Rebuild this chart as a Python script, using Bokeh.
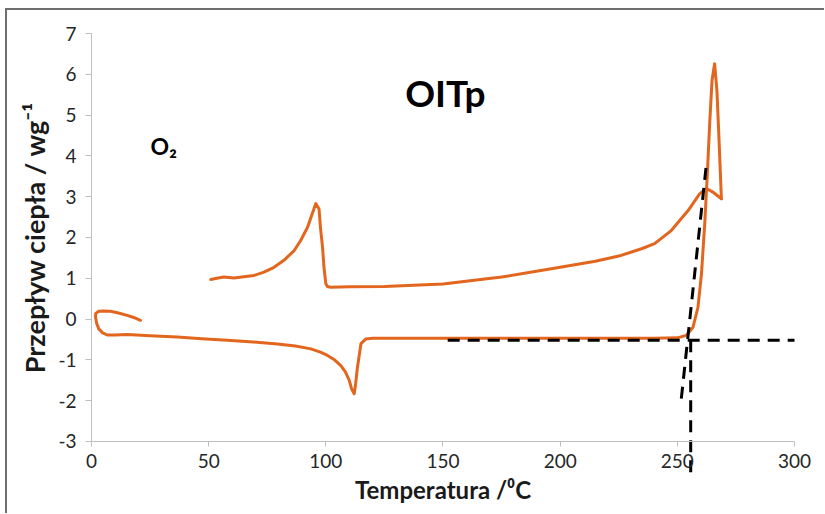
from bokeh.plotting import figure
from bokeh.models import Range1d, FixedTicker, Label
from bokeh.embed import file_html
from bokeh.resources import INLINE

# ---- data ----
heating_T = [20.9, 18.0, 15.2, 11.5, 8.1, 5.0, 3.1, 1.8, 1.7, 2.2, 3.1, 4.6, 6.7, 10.0, 15.2,
             25.0, 36.6, 47.0, 58.0, 69.0, 79.4, 87.0, 93.6, 97.7, 100.7, 103.5, 106.4, 108.4,
             110.0, 111.0, 112.1, 112.7, 113.5, 115.0, 117.0, 120.0, 130.0, 150.0, 180.0,
             210.0, 240.0, 250.0, 253.8, 256.7, 258.8, 260.3, 261.7, 262.8, 263.8, 264.8,
             265.9, 266.9, 267.8, 268.8]
heating_Q = [-0.03, 0.04, 0.09, 0.15, 0.19, 0.20, 0.19, 0.14, 0.05, -0.10, -0.24, -0.33, -0.39,
             -0.39, -0.38, -0.41, -0.44, -0.48, -0.52, -0.56, -0.61, -0.66, -0.73, -0.81,
             -0.89, -0.99, -1.14, -1.30, -1.50, -1.71, -1.83, -1.59, -1.18, -0.60, -0.49,
             -0.47, -0.47, -0.47, -0.47, -0.47, -0.47, -0.46, -0.40, -0.20, 0.29, 1.11, 2.34,
             3.56, 4.79, 5.85, 6.26, 5.60, 4.38, 2.95]

cooling_T = [268.8, 265.0, 262.4, 259.5, 254.6, 247.4, 240.3, 235.0, 226.0, 215.0, 200.0,
             175.0, 150.0, 125.0, 110.0, 102.1, 100.6, 100.0, 99.2, 98.6, 97.7, 97.1, 95.7,
             94.2, 92.2, 89.2, 86.5, 82.1, 77.9, 73.6, 69.4, 65.0, 60.8, 56.5, 53.5, 50.9]
cooling_Q = [2.95, 3.12, 3.20, 3.07, 2.66, 2.17, 1.85, 1.73, 1.56, 1.42, 1.27, 1.03, 0.86,
             0.80, 0.79, 0.78, 0.80, 0.87, 1.27, 1.76, 2.25, 2.70, 2.83, 2.58, 2.25, 1.92,
             1.68, 1.44, 1.27, 1.15, 1.07, 1.04, 1.01, 1.03, 1.00, 0.97]

# onset construction (dashed lines)
baseline_T = [152.0, 300.0]
baseline_Q = [-0.52, -0.52]
tangent_T = [251.7, 262.4]
tangent_Q = [-1.95, 3.80]
onset_T = [255.7, 255.7]
onset_Q = [-0.52, -3.95]

x_ticks = [0, 50, 100, 150, 200, 250, 300]
y_ticks = [-3, -2, -1, 0, 1, 2, 3, 4, 5, 6, 7]

FONT = "Lato"
ORANGE = "#E2661E"
AXIS_GRAY = "#BFBFBF"
DASH = "12 8"

# The frame covers the whole canvas; both axes sit at fixed data positions so that the
# onset line can run past the x axis as in the reference.
p = figure(width=824, height=513,
           x_range=Range1d(-38.83, 312.8), y_range=Range1d(-4.765, 7.809),
           output_backend="svg", toolbar_location=None,
           min_border_left=0, min_border_right=0, min_border_top=0, min_border_bottom=0)
# scanned frame edge (top and left) drawn behind the transparent canvas
p.styles = {"box-shadow": "inset 5px 8px 0 0 #ffffff, inset 7px 10px 0 0 #6e6e6e"}
p.background_fill_alpha = 0
p.border_fill_alpha = 0
p.outline_line_color = None
p.xgrid.visible = False
p.ygrid.visible = False

# data lines
p.line(heating_T, heating_Q, line_color=ORANGE, line_width=3, line_join="round", line_cap="round")
p.line(cooling_T, cooling_Q, line_color=ORANGE, line_width=3, line_join="round", line_cap="round")

# dashed construction lines
for xs, ys in [(baseline_T, baseline_Q), (tangent_T, tangent_Q), (onset_T, onset_Q)]:
    p.line(xs, ys, line_color="black", line_width=3, line_dash=DASH)

# x axis
xa = p.xaxis[0]
xa.fixed_location = -3
xa.bounds = (0, 300)
xa.ticker = FixedTicker(ticks=x_ticks)
xa.axis_line_color = AXIS_GRAY
xa.major_tick_line_color = AXIS_GRAY
xa.major_tick_in = 0
xa.major_tick_out = 5
xa.minor_tick_line_color = None
xa.major_label_overrides = {t: str(t) for t in x_ticks}
xa.major_label_text_font = FONT
xa.major_label_text_font_size = "19px"
xa.major_label_text_color = "#262626"
xa.major_label_standoff = 8
xa.axis_label = "Temperatura /\u2070C"
xa.axis_label_text_font = FONT
xa.axis_label_text_font_style = "bold"
xa.axis_label_text_font_size = "24px"
xa.axis_label_text_color = "#1a1a1a"
xa.axis_label_standoff = 3

# y axis
ya = p.yaxis[0]
ya.fixed_location = 0
ya.bounds = (-3, 7)
ya.ticker = FixedTicker(ticks=y_ticks)
ya.axis_line_color = AXIS_GRAY
ya.major_tick_line_color = AXIS_GRAY
ya.major_tick_in = 0
ya.major_tick_out = 6
ya.minor_tick_line_color = None
ya.major_label_overrides = {t: str(t) for t in y_ticks}
ya.major_label_text_font = FONT
ya.major_label_text_font_size = "19px"
ya.major_label_text_color = "#262626"
ya.major_label_standoff = 9
ya.axis_label = "Przep\u0142yw ciep\u0142a / wg\u207b\u00b9"
ya.axis_label_text_font = FONT
ya.axis_label_text_font_style = "bold"
ya.axis_label_text_font_size = "27px"
ya.axis_label_text_color = "#1a1a1a"
ya.axis_label_standoff = 4

# title inside the plot and gas label
p.add_layout(Label(x=151, y=5.55, text="OITp", text_align="center",
                   text_baseline="alphabetic", text_font=FONT, text_font_style="bold",
                   text_font_size="37px", text_color="black"))
p.add_layout(Label(x=25.2, y=4.25, text="O\u2082", text_align="left",
                   text_baseline="alphabetic", text_font=FONT, text_font_style="bold",
                   text_font_size="23px", text_color="black"))

open("out.html", "w").write(file_html(p, INLINE))
